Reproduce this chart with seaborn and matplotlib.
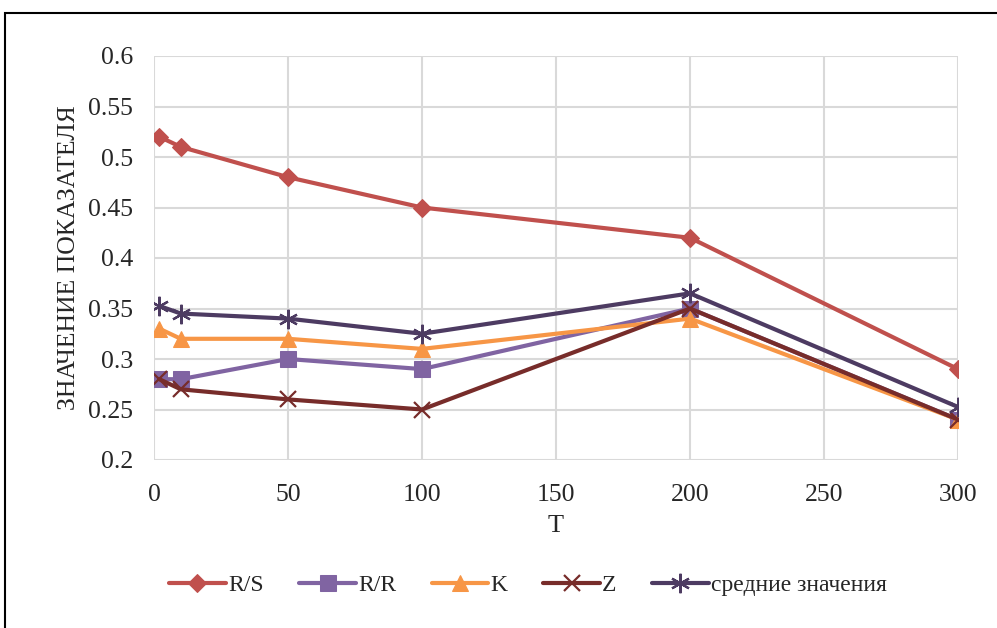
import matplotlib
matplotlib.use("Agg")
import matplotlib.pyplot as plt
import seaborn as sns
import pandas as pd
from matplotlib.patches import Rectangle

x_vals = [2, 10, 50, 100, 200, 300]
rs = [0.52, 0.51, 0.48, 0.45, 0.42, 0.29]
rr = [0.28, 0.28, 0.30, 0.29, 0.35, 0.24]
k = [0.33, 0.32, 0.32, 0.31, 0.34, 0.24]
z = [0.28, 0.27, 0.26, 0.25, 0.35, 0.24]
mean_vals = [0.3525, 0.345, 0.34, 0.325, 0.365, 0.2525]
names = ["R/S", "R/R", "K", "Z", "средние значения"]
y_ticks = [0.2, 0.25, 0.3, 0.35, 0.4, 0.45, 0.5, 0.55, 0.6]
y_ticklabels = ["0.2", "0.25", "0.3", "0.35", "0.4", "0.45", "0.5", "0.55", "0.6"]
x_ticks = [0, 50, 100, 150, 200, 250, 300]

sns.set_style("white")
plt.rcParams['font.family'] = ['Liberation Serif', 'DejaVu Serif']

fig = plt.figure(figsize=(9.97, 6.28), dpi=100)
ax = fig.add_axes([154/997, 1-460/628, (958-154)/997, (460-56)/628])

series = [rs, rr, k, z, mean_vals]
colors = ["#C0504D", "#8064A2", "#F79646", "#772C2A", "#4D3B62"]
markers = ["D", "s", "^", "x", (6, 2, 0)]
msizes = [9, 12, 12, 12, 14]

for name, vals, c, m, ms in zip(names, series, colors, markers, msizes):
    df = pd.DataFrame({"T": x_vals, "v": vals})
    kw = dict(markeredgecolor=c, markerfacecolor=c)
    if m in ("x",) or isinstance(m, tuple):
        kw["markeredgewidth"] = 1.6
    sns.lineplot(data=df, x="T", y="v", ax=ax, color=c, marker=m, markersize=ms,
                 linewidth=3, label=name, **kw)

ax.set_xlim(0, 300)
ax.set_ylim(0.2, 0.6)
ax.set_xticks(x_ticks)
ax.set_yticks(y_ticks)
ax.set_yticklabels(y_ticklabels)
ax.grid(True, color="#D9D9D9", linewidth=1.5)
ax.set_axisbelow(True)
for s in ax.spines.values():
    s.set_visible(False)
ax.tick_params(axis='both', length=0, labelsize=18.5)
ax.tick_params(axis='y', pad=15)
ax.tick_params(axis='x', pad=17)
ax.set_xlabel("T", fontsize=19, labelpad=7)
ax.set_ylabel("ЗНАЧЕНИЕ ПОКАЗАТЕЛЯ", fontsize=18.5, labelpad=6)

handles, labels = ax.get_legend_handles_labels()
ax.get_legend().remove()
fig.legend(handles, labels, loc="center", bbox_to_anchor=(528/997, 1-585/628),
           bbox_transform=fig.transFigure, ncol=5, frameon=False,
           fontsize=17, handlelength=2.4, columnspacing=1.5, handletextpad=0.1,
           numpoints=1)

fig.patches.append(Rectangle((5/997, -0.05), 1.1, 1-13/628+0.05, transform=fig.transFigure,
                             fill=False, edgecolor="black", linewidth=1.5))

fig.savefig("out.png", dpi=100)
